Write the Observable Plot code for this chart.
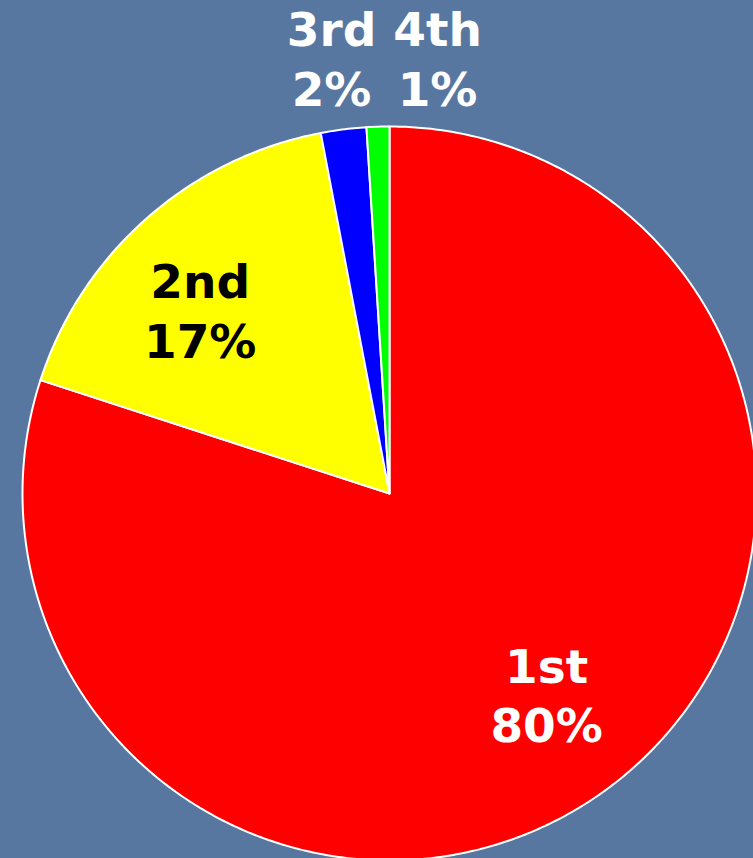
<!DOCTYPE html>
<html><head><meta charset="utf-8">
<script src="https://cdn.jsdelivr.net/npm/d3@7"></script>
<script src="https://cdn.jsdelivr.net/npm/@observablehq/plot@0.6"></script>
<style>
html,body{margin:0;padding:0;background:#5877a0;overflow:hidden}
#chart svg{display:block;background:#5877a0}
</style></head><body><div id="chart"></div>
<script>
const categories = ["1st", "2nd", "3rd", "4th"];
const shares = [80, 17, 2, 1];
const sliceColors = ["#ff0000", "#ffff00", "#0000ff", "#00ff00"];
const labelColors = ["white", "black", "white", "white"];

const W = 753, H = 858, cx = 389, cy = 493, R = 367;

const pie = d3.pie().sort(null).value(d => d.value);
const arcs = pie(categories.map((c, i) => ({category: c, value: shares[i], labelColor: labelColors[i]})));

// slice outlines in unit-circle coordinates (angle measured clockwise from 12 o'clock)
const pts = [];
arcs.forEach(a => {
  const c = a.data.category;
  pts.push({category: c, x: 0, y: 0});
  const n = Math.max(6, Math.ceil((a.endAngle - a.startAngle) / (2 * Math.PI) * 720));
  for (let k = 0; k <= n; k++) {
    const t = a.startAngle + (a.endAngle - a.startAngle) * k / n;
    pts.push({category: c, x: Math.sin(t), y: Math.cos(t)});
  }
  pts.push({category: c, x: 0, y: 0});
});

// labels: inside for big slices, above the pie for thin ones (pushed apart)
const labels = [];
const minGap = 106 / R;
let lastOutside = -Infinity;
arcs.forEach(a => {
  const m = (a.startAngle + a.endAngle) / 2;
  const pct = a.data.value;
  let x, y;
  if (pct >= 5) {
    const r = 0.71;
    x = Math.sin(m) * r; y = Math.cos(m) * r;
  } else {
    x = Math.sin(m) * 1.26;
    if (x < lastOutside + minGap) x = lastOutside + minGap;
    lastOutside = x;
    y = 1.19;
  }
  labels.push({x, y, text: a.data.category + "\n" + pct + "%", color: a.data.labelColor, category: a.data.category});
});
// nudge inside labels as in the source layout
labels.forEach(l => {
  if (l.category === "2nd") { l.x -= 17 / R; l.y -= 11 / R; }
  if (l.category === "1st") { l.x += 4 / R; l.y += 11 / R; }
});

const textOpts = (color) => ({
  x: "x", y: "y", text: "text", fill: color,
  fontSize: 47, fontWeight: "bold", fontFamily: "'DejaVu Sans', Verdana, sans-serif",
  lineHeight: 1.27, textAnchor: "middle", lineAnchor: "middle"
});

const chart = Plot.plot({
  width: W, height: H,
  margin: 0,
  x: {domain: [-cx / R, (W - cx) / R], axis: null},
  y: {domain: [-(H - cy) / R, cy / R], axis: null},
  color: {domain: categories, range: sliceColors},
  style: {background: "#5877a0", overflow: "hidden"},
  marks: [
    Plot.line(pts, {x: "x", y: "y", z: "category", fill: "category", stroke: "white", strokeWidth: 2, strokeLinejoin: "round", curve: "linear"}),
    Plot.text(labels.filter(d => d.color === "white"), textOpts("white")),
    Plot.text(labels.filter(d => d.color === "black"), textOpts("black"))
  ]
});
document.getElementById("chart").appendChild(chart);
</script>
</body></html>
